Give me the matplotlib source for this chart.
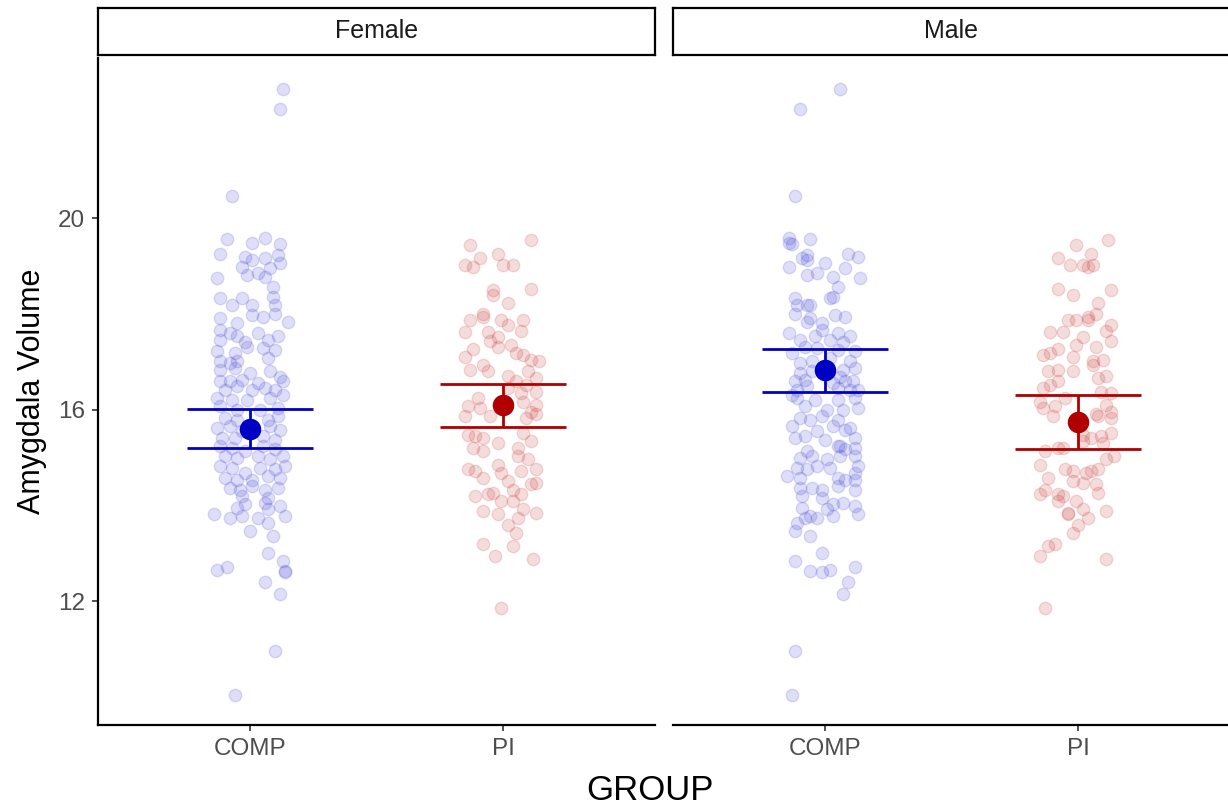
import matplotlib.pyplot as plt

plt.rcParams['font.family'] = ['Liberation Sans', 'DejaVu Sans']

# ---- data ----
sexes = ['Female', 'Male']
groups = ['COMP', 'PI']

# raw volumes, same values shown in both panels; jitter for the female panel
comp_jitter = [0.13, 0.12, -0.07, -0.09, 0.01, 0.06, 0.12, -0.12, -0.02, 0.01, 0.06, 0.11, 0.12,
               -0.03, -0.01, 0.03, 0.06, 0.08, -0.13, 0.09, -0.12, -0.07, -0.03, 0.01, 0.09, 0.10,
               -0.12, -0.05, 0.01, 0.05, 0.10, 0.15, -0.12, -0.08, -0.05, 0.03, 0.07, 0.11, -0.12, -0.02,
               -0.13, -0.06, -0.01, 0.05, 0.10, -0.12, -0.08, -0.05, 0.07,
               -0.12, -0.06, 0.00, 0.08, 0.12, -0.12, -0.08, -0.03, 0.03, 0.13,
               -0.10, -0.05, 0.01, 0.06, 0.10, -0.13, -0.07, -0.01, 0.08, 0.13,
               -0.12, -0.05, 0.04, 0.11, -0.10, -0.05, 0.11, 0.07,
               -0.13, -0.08, -0.03, 0.08, 0.12, -0.11, -0.06, 0.05, 0.10,
               -0.12, -0.07, -0.02, 0.05, 0.10, -0.10, -0.05, 0.03, 0.08, 0.13,
               -0.12, -0.07, -0.02, 0.04, 0.10, 0.14, -0.10, -0.05, 0.01, 0.07, 0.12,
               -0.08, -0.04, 0.01, 0.06, 0.11, -0.03, 0.07,
               -0.02, 0.06, 0.12, -0.05, -0.14, -0.08, -0.03, 0.03, 0.07, 0.14,
               0.00, 0.07, 0.09, 0.07, -0.13, -0.09, 0.13, 0.14, 0.14, 0.06, 0.12, 0.10, -0.06]
comp_volume = [22.71, 22.29, 20.46, 19.56, 19.48, 19.58, 19.46, 19.25, 19.19, 19.13, 19.17, 19.23, 19.06,
               18.98, 18.81, 18.85, 18.77, 18.96, 18.75, 18.56, 18.33, 18.19, 18.33, 18.19, 18.35, 18.19,
               17.91, 17.81, 17.98, 17.94, 18.01, 17.84, 17.67, 17.60, 17.53, 17.60, 17.46, 17.53, 17.46, 17.42,
               17.22, 17.18, 17.32, 17.28, 17.25, 17.01, 16.97, 17.01, 17.08,
               16.83, 16.87, 16.76, 16.80, 16.69, 16.59, 16.59, 16.63, 16.56, 16.59,
               16.42, 16.49, 16.42, 16.45, 16.42, 16.24, 16.21, 16.21, 16.24, 16.31,
               16.07, 16.00, 16.00, 16.03, 15.83, 15.79, 15.86, 15.79,
               15.62, 15.65, 15.55, 15.65, 15.58, 15.41, 15.41, 15.44, 15.37,
               15.24, 15.20, 15.13, 15.24, 15.17, 15.03, 14.99, 15.03, 14.96, 15.03,
               14.82, 14.78, 14.68, 14.78, 14.75, 14.82, 14.58, 14.54, 14.54, 14.61, 14.58,
               14.37, 14.33, 14.40, 14.33, 14.37, 14.19, 14.16,
               14.02, 14.06, 13.99, 13.95, 13.81, 13.74, 13.78, 13.74, 13.92, 13.78,
               13.47, 13.64, 13.36, 13.00, 12.65, 12.72, 12.84, 12.63, 12.60, 12.39, 12.15, 10.96, 10.04]

pi_jitter = [-0.13, 0.11, -0.15, -0.12, -0.09, -0.02, 0.00, 0.04,
             -0.04, -0.04, 0.11, 0.02, -0.08, -0.08, -0.13, -0.01, 0.08, -0.15, -0.06, 0.02, 0.07,
             -0.02, -0.05, -0.02, 0.03, -0.12, 0.05, 0.08, -0.15, 0.11, 0.14, -0.08, -0.13, -0.06,
             0.10, 0.02, 0.13, 0.05, 0.09,
             0.02, 0.07, 0.13, -0.10, 0.08, 0.13, -0.14, -0.09, 0.11, -0.15, -0.05, 0.09, 0.13,
             -0.14, -0.11, -0.08, 0.08, 0.11, -0.02, -0.12, -0.08, 0.06, 0.06, 0.10, -0.02,
             -0.14, -0.11, -0.08, -0.01, 0.07, 0.13, 0.02, 0.11, 0.13, -0.11, -0.06, -0.04,
             -0.01, 0.04, 0.04, 0.07, 0.08, -0.08, -0.02, 0.13, 0.06, 0.02, 0.05, -0.08, 0.04,
             -0.03, 0.12, -0.01]
pi_volume = [19.45, 19.54, 19.02, 18.99, 19.17, 19.26, 19.02, 19.02,
             18.50, 18.40, 18.53, 18.24, 17.99, 17.94, 17.87, 17.87, 17.87, 17.62, 17.63, 17.77, 17.65,
             17.51, 17.44, 17.32, 17.35, 17.27, 17.18, 17.15, 17.11, 17.04, 17.01, 16.94, 16.83, 16.80,
             16.80, 16.70, 16.66, 16.59, 16.52,
             16.45, 16.35, 16.38, 16.24, 16.17, 16.10, 16.07, 16.03, 15.96, 15.86, 15.86, 15.83, 15.90,
             15.48, 15.44, 15.41, 15.51, 15.34, 15.31, 15.20, 15.13, 15.20, 15.03, 14.96, 14.85,
             14.75, 14.72, 14.58, 14.68, 14.72, 14.75, 14.51, 14.44, 14.47, 14.19, 14.23, 14.26,
             14.09, 14.33, 14.09, 14.23, 13.92, 13.88, 13.81, 13.85, 13.74, 13.60, 13.43, 13.19, 13.15,
             12.94, 12.87, 11.85]

# group means with interval bounds, per panel [COMP, PI]
mean_vol = {'Female': [15.60, 16.10], 'Male': [16.82, 15.74]}
lower_vol = {'Female': [15.20, 15.63], 'Male': [16.38, 15.17]}
upper_vol = {'Female': [16.01, 16.53], 'Male': [17.26, 16.31]}

pt_colors = ['#3D3DD6', '#C83232']
mean_colors = ['#0000C4', '#B00000']

# ---- figure ----
fig = plt.figure(figsize=(12.28, 8.05), dpi=100)
panel_left = [98 / 1228, 673 / 1228]
panel_w = 557 / 1228
ax_bottom = 80 / 805
ax_h = 667 / 805

for k, sex in enumerate(sexes):
    ax = fig.add_axes([panel_left[k], ax_bottom, panel_w, ax_h])

    if sex == 'Female':
        jits = [comp_jitter, pi_jitter]
    else:
        jits = [[-j for j in comp_jitter[::-1]], pi_jitter[::-1]]
    vols = [comp_volume, pi_volume]

    for g in range(2):
        xs = [g + 1 + j for j in jits[g]]
        ax.scatter(xs, vols[g], s=80, color=pt_colors[g], alpha=0.17,
                   edgecolors=pt_colors[g], linewidths=1.0, zorder=2)
        ax.errorbar([g + 1], [mean_vol[sex][g]],
                    yerr=[[mean_vol[sex][g] - lower_vol[sex][g]],
                          [upper_vol[sex][g] - mean_vol[sex][g]]],
                    fmt='none', ecolor=mean_colors[g], elinewidth=2, zorder=3)
        ax.hlines([lower_vol[sex][g], upper_vol[sex][g]], g + 1 - 0.25, g + 1 + 0.25,
                  color=mean_colors[g], linewidth=2, zorder=3)
        ax.plot([g + 1], [mean_vol[sex][g]], 'o', color=mean_colors[g],
                markersize=14.5, zorder=4)

    ax.set_xlim(0.4, 2.6)
    ax.set_ylim(9.41, 23.35)
    ax.set_xticks([1, 2])
    ax.set_xticklabels(groups)
    ax.set_yticks([12, 16, 20])
    ax.tick_params(axis='both', labelsize=17.5, labelcolor='#4D4D4D', color='#333333',
                   length=4.5, width=1.2, pad=5)
    for side in ['top', 'right']:
        ax.spines[side].set_visible(False)
    ax.spines['bottom'].set_linewidth(1.6)
    ax.spines['left'].set_linewidth(1.6)
    if k == 1:
        ax.spines['left'].set_visible(False)
        ax.tick_params(axis='y', left=False, labelleft=False)
    else:
        ax.set_ylabel('Amygdala Volume', fontsize=22, labelpad=8)

    # facet strip
    strip = fig.add_axes([panel_left[k], 750 / 805, panel_w, 47 / 805])
    strip.set_xticks([])
    strip.set_yticks([])
    strip.set_xlim(0, 1)
    strip.set_ylim(0, 1)
    for sp in strip.spines.values():
        sp.set_linewidth(1.6)
        sp.set_color('black')
    strip.text(0.5, 0.5, sex, ha='center', va='center', fontsize=18, color='#1A1A1A')

fig.text(650 / 1228, 15 / 805, 'GROUP', ha='center', va='center', fontsize=25)

plt.savefig('out.png', dpi=100)
